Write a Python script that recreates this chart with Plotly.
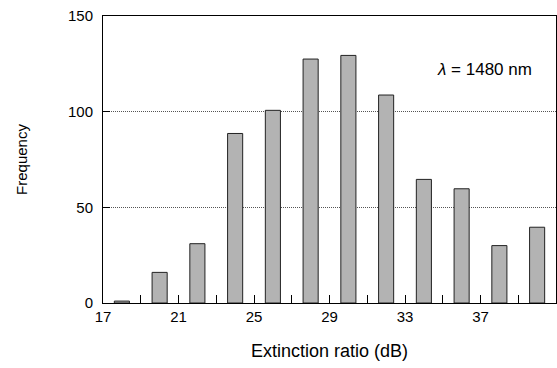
import plotly.graph_objects as go

ratios = [18, 20, 22, 24, 26, 28, 30, 32, 34, 36, 38, 40]
frequency = [1, 16, 31, 88.6, 100.7, 127.5, 129.4, 108.7, 64.6, 59.7, 30, 39.6]
x_tickvals = [17, 19, 21, 23, 25, 27, 29, 31, 33, 35, 37, 39]
x_ticktext = ["17", "", "21", "", "25", "", "29", "", "33", "", "37", ""]
y_tickvals = [0, 50, 100, 150]

fig = go.Figure(go.Bar(
    x=ratios, y=frequency, width=0.8,
    marker=dict(color="#b3b3b3", line=dict(color="#222222", width=1)),
))

fam = "Liberation Sans, Arial, sans-serif"
font = dict(family=fam, size=15, color="black")
fig.update_layout(
    width=557, height=368,
    margin=dict(l=103, r=1, t=16, b=65),
    paper_bgcolor="white", plot_bgcolor="white",
    font=font, showlegend=False,
    xaxis=dict(
        range=[17, 41], tickmode="array", tickvals=x_tickvals, ticktext=x_ticktext,
        ticks="inside", ticklen=8, tickcolor="black", tickwidth=1,
        showline=True, linecolor="black", linewidth=1, mirror=True,
        showgrid=False, zeroline=False, automargin=False,
        title=dict(text="Extinction ratio (dB)", standoff=20, font=dict(size=18)),
    ),
    yaxis=dict(
        range=[0, 150], tickmode="array", tickvals=y_tickvals,
        ticks="inside", ticklen=7, tickcolor="black", tickwidth=1,
        ticklabelstandoff=6,
        showline=True, linecolor="black", linewidth=1, mirror=True,
        showgrid=True, gridcolor="#555555", griddash="1px,1px", gridwidth=1,
        zeroline=False, automargin=False,
        title=dict(text="Frequency", standoff=36, font=dict(size=15)),
    ),
    annotations=[dict(
        x=34.6, y=121.8, xref="x", yref="y", xanchor="left", yanchor="middle",
        text="<i>λ</i> = 1480 nm", showarrow=False, font=dict(family=fam, size=17, color="black"),
    )],
)

fig.write_html("out.html", config={"displayModeBar": False},
               post_script="document.body.style.margin='0';document.body.style.overflow='hidden';")
